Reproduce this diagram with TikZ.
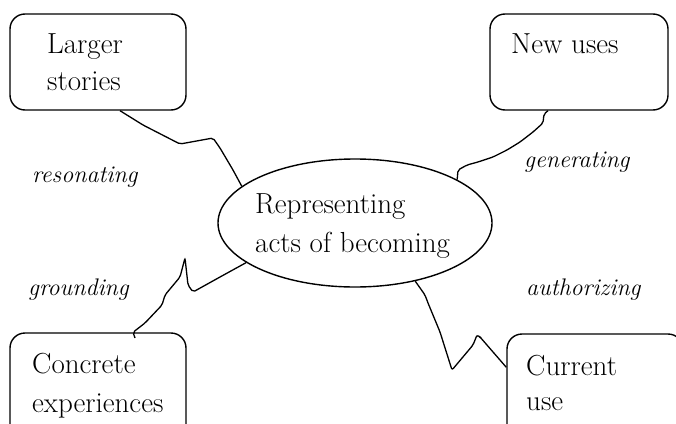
\documentclass[tikz,border=0pt]{standalone}
\usetikzlibrary{shapes.geometric}
\tikzset{
  topic/.style={draw, line width=1.4pt, rounded corners=15pt, minimum height=96pt, inner sep=0pt},
  hub/.style={draw, ellipse, line width=1.4pt, minimum width=274pt, minimum height=128pt, inner sep=0pt},
  words/.style={font=\fontsize{29}{37}\selectfont, align=left, anchor=base west, inner sep=0pt},
  verb/.style={font=\fontsize{24}{30}\selectfont\itshape, anchor=base west, inner sep=0pt},
  squiggle/.style={line width=1.3pt, rounded corners=2pt},
}
\begin{document}
\begin{tikzpicture}[x=1pt,y=-1pt]
    \useasboundingbox (0,0) rectangle (676,423);
    \clip (0,0) rectangle (676,423);
    % the four boxes and the hub
    \node[topic, minimum width=176pt] (larger) at (98,62) {};
    \node[topic, minimum width=178pt] (newuses) at (579,62) {};
    \node[topic, minimum width=176pt, minimum height=130pt] (concrete) at (98,398) {};
    \node[topic, minimum width=176pt, minimum height=130pt] (current) at (595,399) {};
    \node[hub] (rep) at (355,223) {};
    % texts (base = last line)
    \node[words] (largertxt) at (47,90) {Larger\\stories};
    \node[words] (newtxt) at (511,53) {New uses};
    \node[words, font=\fontsize{29}{39}\selectfont] (reptxt) at (255,252) {Representing\\acts of becoming};
    \node[words, font=\fontsize{29}{39}\selectfont] (concretetxt) at (32,412) {Concrete\\experiences};
    \node[words, font=\fontsize{29}{35}\selectfont] (currenttxt) at (526,410) {Current\\use};
    % link labels
    \node[verb] (resonating) at (32,182) {resonating};
    \node[verb] (generating) at (524,167) {generating};
    \node[verb] (grounding) at (28,295) {grounding};
    \node[verb] (authorizing) at (526,295) {authorizing};
    % hand drawn links
    \draw[squiggle] ([xshift=22pt]larger.south) -- (143,125) -- (180,144) -- (213,138)
        -- (220,148) -- (233,170) -- (rep.162);
    \draw[squiggle] ([xshift=-31pt]newuses.south) -- (544,114) -- (543,123) -- (533,132)
        -- (520,142) -- (507,150) -- (493,157) -- (478,162) -- (467,165) -- (458,170) -- (rep.23);
    \draw[squiggle] (rep.200) -- (220,277) -- (193,292) -- (188,285) -- (185,258) -- (180,277)
        -- (165,295) -- (162,305) -- (145,323) -- ([xshift=35pt]concrete.north) -- (135,338);
    \draw[squiggle] (rep.316) -- (425,295) -- (428,303) -- (440,332) -- (452,370) -- (473,345)
        -- (477,335) -- (480,337) -- ([yshift=-34pt]current.north west);
\end{tikzpicture}
\end{document}
